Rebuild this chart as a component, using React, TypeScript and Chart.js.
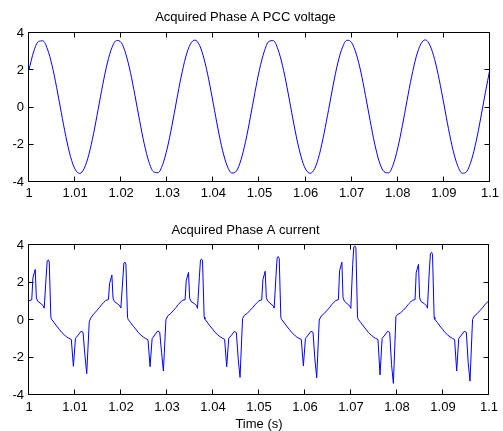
import React, { useEffect, useRef } from "react";
import { Chart, registerables } from "chart.js";

Chart.register(...registerables);

// ---------- axis ticks ----------
const X_TICKS = [1, 1.01, 1.02, 1.03, 1.04, 1.05, 1.06, 1.07, 1.08, 1.09, 1.1];
const X_TICK_LABELS = ["1", "1.01", "1.02", "1.03", "1.04", "1.05", "1.06", "1.07", "1.08", "1.09", "1.1"];
const Y_TICKS = [-4, -2, 0, 2, 4];
const Y_TICK_LABELS = ["-4", "-2", "0", "2", "4"];

// ---------- voltage (sampled every 1 ms from t = 1 s) ----------
const VOLTAGE_START = 1;
const VOLTAGE_STEP = 0.001;
const voltage = [
  2.03, 2.99, 3.53, 3.58, 3.14, 2.26, 1.07, -0.27, -1.56, -2.63,
  -3.32, -3.54, -3.26, -2.51, -1.41, -0.10, 1.23, 2.39, 3.22, 3.60,
  3.49, 2.88, 1.89, 0.63, -0.71, -1.95, -2.91, -3.45, -3.50, -3.06,
  -2.18, -0.99, 0.35, 1.64, 2.71, 3.40, 3.62, 3.34, 2.59, 1.49,
  0.18, -1.15, -2.31, -3.14, -3.52, -3.41, -2.80, -1.81, -0.55, 0.79,
  2.04, 2.98, 3.54, 3.59, 3.13, 2.25, 1.06, -0.28, -1.57, -2.62,
  -3.31, -3.53, -3.27, -2.52, -1.40, -0.11, 1.22, 2.40, 3.23, 3.61,
  3.48, 2.87, 1.90, 0.64, -0.70, -1.96, -2.92, -3.44, -3.51, -3.07,
  -2.17, -0.98, 0.36, 1.65, 2.72, 3.41, 3.63, 3.33, 2.58, 1.48,
  0.19, -1.14, -2.30, -3.13, -3.53, -3.42, -2.81, -1.82, -0.56, 0.80,
  2.06,
];

// ---------- current (time in s, value) ----------
const currentTime = [
  1.00000, 1.00060, 1.00085, 1.00135, 1.00160, 1.00190, 1.00260, 1.00310, 1.00330, 1.00370, 1.00395, 1.00420, 1.00440, 1.00475, 1.00490, 1.00540, 1.00600, 1.00660, 1.00710, 1.00770, 1.00820, 1.00870, 1.00920, 1.00965, 1.01010, 1.01070, 1.01130, 1.01175, 1.01215, 1.01255, 1.01310, 1.01350, 1.01410, 1.01470, 1.01530, 1.01580, 1.01630,
  1.01667, 1.01727, 1.01752, 1.01802, 1.01827, 1.01857, 1.01927, 1.01977, 1.01997, 1.02037, 1.02062, 1.02087, 1.02107, 1.02142, 1.02157, 1.02207, 1.02267, 1.02327, 1.02377, 1.02437, 1.02487, 1.02537, 1.02587, 1.02632, 1.02677, 1.02737, 1.02797, 1.02842, 1.02882, 1.02922, 1.02977, 1.03017, 1.03077, 1.03137, 1.03197, 1.03247, 1.03297,
  1.03333, 1.03393, 1.03418, 1.03468, 1.03493, 1.03523, 1.03593, 1.03643, 1.03663, 1.03703, 1.03728, 1.03753, 1.03773, 1.03808, 1.03823, 1.03873, 1.03933, 1.03993, 1.04043, 1.04103, 1.04153, 1.04203, 1.04253, 1.04298, 1.04343, 1.04403, 1.04463, 1.04508, 1.04548, 1.04588, 1.04643, 1.04683, 1.04743, 1.04803, 1.04863, 1.04913, 1.04963,
  1.05000, 1.05060, 1.05085, 1.05135, 1.05160, 1.05190, 1.05260, 1.05310, 1.05330, 1.05370, 1.05395, 1.05420, 1.05440, 1.05475, 1.05490, 1.05540, 1.05600, 1.05660, 1.05710, 1.05770, 1.05820, 1.05870, 1.05920, 1.05965, 1.06010, 1.06070, 1.06130, 1.06175, 1.06215, 1.06255, 1.06310, 1.06350, 1.06410, 1.06470, 1.06530, 1.06580, 1.06630,
  1.06667, 1.06727, 1.06752, 1.06802, 1.06827, 1.06857, 1.06927, 1.06977, 1.06997, 1.07037, 1.07062, 1.07087, 1.07107, 1.07142, 1.07157, 1.07207, 1.07267, 1.07327, 1.07377, 1.07437, 1.07487, 1.07537, 1.07587, 1.07632, 1.07677, 1.07737, 1.07797, 1.07842, 1.07882, 1.07922, 1.07977, 1.08017, 1.08077, 1.08137, 1.08197, 1.08247, 1.08297,
  1.08333, 1.08393, 1.08418, 1.08468, 1.08493, 1.08523, 1.08593, 1.08643, 1.08663, 1.08703, 1.08728, 1.08753, 1.08773, 1.08808, 1.08823, 1.08873, 1.08933, 1.08993, 1.09043, 1.09103, 1.09153, 1.09203, 1.09253, 1.09298, 1.09343, 1.09403, 1.09463, 1.09508, 1.09548, 1.09588, 1.09643, 1.09683, 1.09743, 1.09803, 1.09863, 1.09913, 1.09963,
  1.10000,
];
const currentValue = [
  1.03, 1.08, 2.25, 2.70, 1.18, 1.00, 0.87, 0.76, 0.63, 2.20, 3.15, 3.20, 3.10, 0.15, 0.04, -0.12, -0.32, -0.50, -0.66, -0.80, -0.90, -0.98, -1.04, -2.47, -0.98, -0.80, -0.60, -0.66, -1.86, -2.86, -0.09, 0.14, 0.33, 0.49, 0.66, 0.82, 0.95,
  1.04, 1.09, 1.95, 2.40, 1.16, 0.98, 0.86, 0.75, 0.64, 2.08, 3.03, 3.08, 2.98, 0.14, 0.03, -0.13, -0.33, -0.51, -0.67, -0.81, -0.91, -0.99, -1.05, -2.49, -0.99, -0.79, -0.59, -0.65, -1.72, -2.72, 0.02, 0.22, 0.34, 0.50, 0.67, 0.83, 0.96,
  1.05, 1.08, 2.09, 2.54, 1.17, 0.99, 0.88, 0.77, 0.62, 2.25, 3.20, 3.25, 3.15, 0.16, 0.05, -0.11, -0.31, -0.49, -0.65, -0.79, -0.89, -0.97, -1.03, -2.49, -0.97, -0.81, -0.61, -0.67, -2.06, -3.06, 0.08, 0.25, 0.35, 0.51, 0.66, 0.81, 0.94,
  1.03, 1.07, 2.15, 2.60, 1.19, 1.01, 0.86, 0.75, 0.63, 2.38, 3.33, 3.38, 3.28, 0.14, 0.04, -0.12, -0.32, -0.50, -0.66, -0.80, -0.90, -0.98, -1.04, -2.45, -0.98, -0.80, -0.60, -0.66, -2.08, -3.08, 0.00, 0.20, 0.33, 0.49, 0.65, 0.82, 0.95,
  1.04, 1.08, 2.63, 3.08, 1.20, 1.00, 0.85, 0.74, 0.62, 2.95, 3.90, 3.95, 3.85, 0.15, 0.04, -0.12, -0.32, -0.50, -0.66, -0.80, -0.90, -0.98, -1.04, -2.93, -0.98, -0.80, -0.60, -0.66, -2.38, -3.38, 0.18, 0.30, 0.38, 0.52, 0.68, 0.84, 0.96,
  1.05, 1.09, 2.52, 2.97, 1.18, 0.99, 0.87, 0.76, 0.63, 2.61, 3.56, 3.61, 3.51, 0.15, 0.04, -0.12, -0.32, -0.50, -0.66, -0.80, -0.90, -0.98, -1.04, -2.72, -0.98, -0.80, -0.60, -0.66, -2.26, -3.26, 0.02, 0.22, 0.34, 0.50, 0.66, 0.82, 0.95,
  1.01,
];

const FONT_FAMILY = "'Liberation Sans', Arial, sans-serif";
const LINE_COLOR = "#0000ff";

// MATLAB-like box with inward ticks on all four sides
const matlabAxes = {
  id: "matlabAxes",
  afterDraw(chart: any) {
    const { ctx, chartArea: a, scales } = chart;
    const xs = scales.x;
    const ys = scales.y;
    const L = 5;
    const r = (v: number) => Math.round(v) - 0.5;
    const left = r(a.left), right = r(a.right), top = r(a.top), bottom = r(a.bottom);
    ctx.save();
    ctx.strokeStyle = "#000";
    ctx.lineWidth = 1;
    ctx.beginPath();
    for (const t of xs.ticks) {
      const px = r(xs.getPixelForValue(t.value));
      ctx.moveTo(px, bottom);
      ctx.lineTo(px, bottom - L);
      ctx.moveTo(px, top);
      ctx.lineTo(px, top + L);
    }
    for (const t of ys.ticks) {
      const py = r(ys.getPixelForValue(t.value));
      ctx.moveTo(left, py);
      ctx.lineTo(left + L, py);
      ctx.moveTo(right, py);
      ctx.lineTo(right - L, py);
    }
    ctx.rect(left, top, right - left, bottom - top);
    ctx.stroke();
    ctx.restore();
  },
};

type PanelProps = {
  top: number;
  height: number;
  title: string;
  titlePad: [number, number];
  xHeight: number;
  xPad: number;
  xTitle?: string;
  points: { x: number; y: number }[];
  smooth: boolean;
};

function Panel({ top, height, title, titlePad, xHeight, xPad, xTitle, points, smooth }: PanelProps) {
  const ref = useRef<HTMLCanvasElement>(null);
  useEffect(() => {
    if (!ref.current) return;
    const font = { family: FONT_FAMILY, size: 13, weight: "normal" as const };
    const chart = new Chart(ref.current, {
      type: "line",
      data: {
        datasets: [
          {
            data: points,
            borderColor: LINE_COLOR,
            borderWidth: 1,
            pointRadius: 0,
            fill: false,
            tension: 0,
            cubicInterpolationMode: smooth ? "monotone" : "default",
          },
        ],
      },
      options: {
        responsive: false,
        animation: false,
        events: [],
        layout: { padding: { left: 0, right: 12, top: 0, bottom: 0 } },
        plugins: {
          legend: { display: false },
          tooltip: { enabled: false },
          title: {
            display: true,
            text: title,
            color: "#000",
            font,
            padding: { top: titlePad[0], bottom: titlePad[1] },
          },
        },
        scales: {
          x: {
            type: "linear",
            min: 1,
            max: 1.1,
            grid: { display: false, drawTicks: false },
            border: { display: false },
            ticks: {
              color: "#000",
              font,
              padding: xPad,
              maxRotation: 0,
              autoSkip: false,
              callback: (_v: any, i: number) => X_TICK_LABELS[i],
            },
            afterBuildTicks: (s: any) => {
              s.ticks = X_TICKS.map((v) => ({ value: v }));
            },
            afterFit: (s: any) => {
              s.height = xHeight;
            },
            title: xTitle
              ? {
                  display: true,
                  text: xTitle,
                  color: "#000",
                  font: { ...font, lineHeight: 1 },
                  padding: { top: 0, bottom: 0 },
                }
              : { display: false },
          },
          y: {
            type: "linear",
            min: -4,
            max: 4,
            grid: { display: false, drawTicks: false },
            border: { display: false },
            ticks: {
              color: "#000",
              font,
              padding: 5,
              callback: (_v: any, i: number) => Y_TICK_LABELS[i],
            },
            afterBuildTicks: (s: any) => {
              s.ticks = Y_TICKS.map((v) => ({ value: v }));
            },
            afterFit: (s: any) => {
              s.width = 29;
            },
          },
        },
      },
      plugins: [matlabAxes],
    } as any);
    return () => chart.destroy();
  }, []);
  return (
    <canvas
      ref={ref}
      width={503}
      height={height}
      style={{ position: "absolute", left: 0, top, width: 503, height }}
    />
  );
}

export default function App() {
  const voltagePoints = voltage.map((v, i) => ({ x: VOLTAGE_START + i * VOLTAGE_STEP, y: v }));
  const currentPoints = currentValue.map((v, i) => ({ x: currentTime[i], y: v }));
  return (
    <div style={{ position: "absolute", left: 0, top: 0, width: 503, height: 431, background: "#fff" }}>
      <Panel
        top={0}
        height={215}
        title="Acquired Phase A PCC voltage"
        titlePad={[9.4, 8.0]}
        xHeight={33}
        xPad={4}
        points={voltagePoints}
        smooth={true}
      />
      <Panel
        top={215}
        height={216}
        title="Acquired Phase A current"
        titlePad={[7.4, 7.0]}
        xHeight={36}
        xPad={5}
        xTitle="Time (s)"
        points={currentPoints}
        smooth={false}
      />
    </div>
  );
}
